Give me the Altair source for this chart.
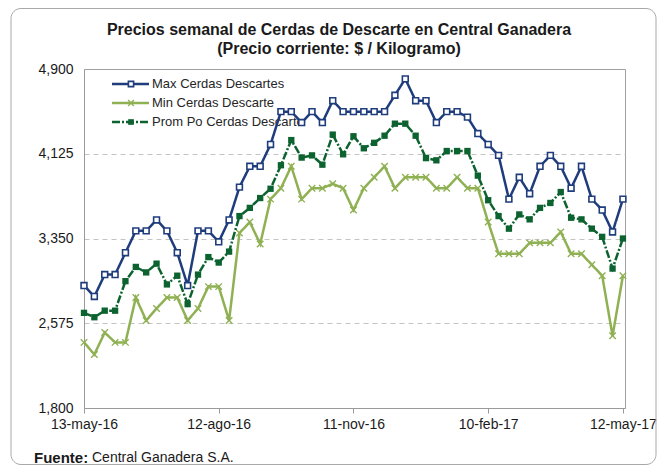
import altair as alt
import pandas as pd

# ---------------- data ----------------
weeks = list(range(53))  # weekly, 13-may-16 ... 12-may-17
tick_weeks = [0, 13, 26, 39, 52]
tick_labels = ["13-may-16", "12-ago-16", "11-nov-16", "10-feb-17", "12-may-17"]
y_ticks = [1800, 2575, 3350, 4125, 4900]
series_names = ["Max Cerdas Descartes", "Min Cerdas Descarte", "Prom Po Cerdas Descarte"]

max_vals = [2920, 2820, 3020, 3020, 3220, 3420, 3420, 3520, 3420, 3220,
            2920, 3420, 3420, 3320, 3520, 3820, 4010, 4010, 4210, 4510,
            4510, 4410, 4510, 4410, 4610, 4510, 4510, 4510, 4510, 4510,
            4660, 4810, 4610, 4610, 4410, 4510, 4510, 4460, 4310, 4210,
            4110, 3710, 3910, 3760, 4010, 4110, 4010, 3810, 4010, 3710,
            3610, 3410, 3710]
min_vals = [2400, 2290, 2490, 2400, 2400, 2810, 2600, 2710, 2810, 2810,
            2600, 2710, 2910, 2910, 2600, 3400, 3500, 3300, 3710, 3810,
            4010, 3710, 3810, 3810, 3850, 3810, 3610, 3810, 3910, 4010,
            3810, 3910, 3910, 3910, 3810, 3810, 3910, 3810, 3810, 3500,
            3210, 3210, 3210, 3310, 3310, 3310, 3410, 3210, 3210, 3110,
            3010, 2460, 3010]
prom_vals = [2670, 2630, 2690, 2690, 2960, 3090, 3040, 3120, 2930, 3010,
             2750, 3020, 3180, 3130, 3230, 3555, 3630, 3720, 3805, 4020,
             4250, 4090, 4110, 4025, 4300, 4120, 4285, 4175, 4225, 4290,
             4400, 4400, 4290, 4085, 4065, 4150, 4150, 4150, 3925, 3700,
             3555, 3440, 3570, 3525, 3630, 3675, 3775, 3540, 3525, 3440,
             3365, 3075, 3350]

rows = []
for name, vals in zip(series_names, [max_vals, min_vals, prom_vals]):
    for w, v in zip(weeks, vals):
        rows.append({"week": w, "value": v, "series": name})
df = pd.DataFrame(rows)

# ---------------- styling ----------------
FONT = "Liberation Sans"
NAVY = "#1f3c7c"
LGREEN = "#8fb153"
DGREEN = "#0c6330"
XPATH = "M-1,-1L1,1M1,-1L-1,1"

styles = {
    series_names[0]: dict(color=NAVY, dash=[1, 0], shape="square", fill="white", filled=True, size=34, sw=1.6),
    series_names[1]: dict(color=LGREEN, dash=[1, 0], shape=XPATH, fill=LGREEN, filled=False, size=42, sw=1.4),
    series_names[2]: dict(color=DGREEN, dash=[8, 2, 2, 2], shape="square", fill=DGREEN, filled=True, size=40, sw=0),
}

W, H = 541, 339
x_scale = alt.Scale(domain=[0, 52.2], nice=False, zero=False)
y_scale = alt.Scale(domain=[1800, 4900], nice=False, zero=False)

label_expr = "[" + ",".join("'%s'" % t for t in tick_labels) + "][round(datum.value/13)]"
x_axis = alt.Axis(values=tick_weeks, labelExpr=label_expr, title=None, grid=False,
                  domainColor="#9a9a9a", tickColor="#9a9a9a", tickSize=5,
                  labelFont=FONT, labelFontSize=14, labelColor="#1a1a1a",
                  labelPadding=4, labelOverlap=False, labelFlush=False)
y_axis = alt.Axis(values=y_ticks, format=",d", title=None, domainColor="#9a9a9a",
                  ticks=False, labelPadding=11, labelFont=FONT, labelFontSize=14,
                  labelColor="#1a1a1a", gridColor="#c4c4c4", gridDash=[5, 4],
                  gridOpacity={"condition": {"test": "datum.value == 1800 || datum.value == 4900",
                                             "value": 0}, "value": 1})

base = alt.Chart(df).encode(
    x=alt.X("week:Q", scale=x_scale, axis=x_axis),
    y=alt.Y("value:Q", scale=y_scale, axis=y_axis),
)

one = alt.Data(values=[{"a": 1}])

layers = []

# outer rounded frame
layers.append(
    alt.Chart(one).mark_rect(filled=False, stroke="#a8a8a8", strokeWidth=1, cornerRadius=10)
    .encode(x=alt.value(-73), x2=alt.value(572), y=alt.value(-60.5), y2=alt.value(395.5))
)

# title
layers.append(
    alt.Chart(one).mark_text(text="Precios semanal de Cerdas de Descarte en Central Ganadera",
                             font=FONT, fontSize=16, fontWeight="bold", color="#1a1a1a",
                             align="center", baseline="middle")
    .encode(x=alt.value(255), y=alt.value(-39))
)
layers.append(
    alt.Chart(one).mark_text(text="(Precio corriente: $ / Kilogramo)",
                             font=FONT, fontSize=16, fontWeight="bold", color="#1a1a1a",
                             align="center", baseline="middle")
    .encode(x=alt.value(255), y=alt.value(-20))
)

# footer
layers.append(
    alt.Chart(one).mark_text(text="Fuente:", font=FONT, fontSize=15, fontWeight="bold",
                             color="#1a1a1a", align="left", baseline="middle")
    .encode(x=alt.value(-50), y=alt.value(389))
)
layers.append(
    alt.Chart(one).mark_text(text="Central Ganadera S.A.", font=FONT, fontSize=14,
                             color="#1a1a1a", align="left", baseline="middle")
    .encode(x=alt.value(8), y=alt.value(389))
)

# legend (drawn manually: line + marker + label)
leg_rows = [15, 34, 53]
for name, ly in zip(series_names, leg_rows):
    s = styles[name]
    layers.append(
        alt.Chart(one).mark_rule(color=s["color"], strokeWidth=2.5, strokeDash=s["dash"])
        .encode(x=alt.value(28), x2=alt.value(65), y=alt.value(ly))
    )
    layers.append(
        alt.Chart(one).mark_point(shape=s["shape"], filled=s["filled"], fill=s["fill"],
                                  stroke=s["color"], strokeWidth=max(s["sw"], 0.01),
                                  size=s["size"] * 0.8, opacity=1)
        .encode(x=alt.value(47), y=alt.value(ly))
    )
    layers.append(
        alt.Chart(one).mark_text(text=name, font=FONT, fontSize=13, color="#262626",
                                 align="left", baseline="middle")
        .encode(x=alt.value(68), y=alt.value(ly))
    )

# data series
for name in series_names:
    s = styles[name]
    sub = base.transform_filter(alt.datum.series == name)
    layers.append(sub.mark_line(color=s["color"], strokeWidth=2.5, strokeDash=s["dash"]))
    layers.append(
        sub.mark_point(shape=s["shape"], filled=s["filled"], fill=s["fill"], stroke=s["color"],
                       strokeWidth=max(s["sw"], 0.01), size=s["size"], opacity=1)
    )

chart = alt.layer(*layers).properties(
    width=W, height=H,
    autosize=alt.AutoSizeParams(type="none"),
    padding={"left": 76, "top": 61, "right": 32, "bottom": 57},
    background="white",
).configure_view(stroke="#a0a0a0", strokeWidth=1)

chart.save("out.html", embed_options={"renderer": "svg", "actions": False})
